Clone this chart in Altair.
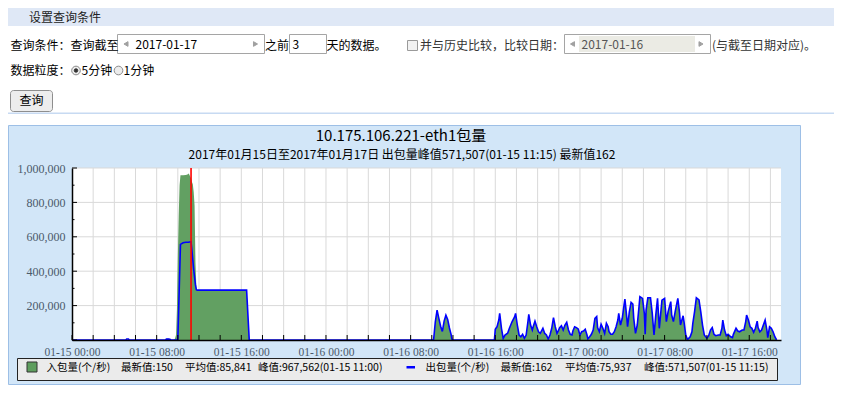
import altair as alt
import pandas as pd

# ---------------- data ----------------
# 入包量 (in) — 01-15, big burst
in_early_t = ["01-15 00:00", "01-15 05:05", "01-15 05:10", "01-15 05:20", "01-15 05:25",
              "01-15 08:50", "01-15 08:55", "01-15 09:05", "01-15 09:15", "01-15 09:20",
              "01-15 09:40", "01-15 09:45", "01-15 09:50", "01-15 09:55", "01-15 10:00",
              "01-15 10:05", "01-15 10:10", "01-15 10:15", "01-15 10:30", "01-15 10:45",
              "01-15 10:55", "01-15 11:00", "01-15 11:05", "01-15 11:10", "01-15 11:15",
              "01-15 11:20", "01-15 11:25", "01-15 11:30", "01-15 11:35", "01-15 11:40",
              "01-15 11:45", "01-15 11:50", "01-15 16:30", "01-15 16:45"]
in_early_v = [0, 0, 5000, 5000, 0,
              0, 6000, 8000, 6000, 0,
              0, 12000, 30000, 180000, 480000,
              720000, 900000, 958000, 958000, 960000,
              962000, 967562, 962000, 950000, 940000,
              918000, 905000, 860000, 780000, 450000,
              310000, 290000, 290000, 0]

# 出包量 (out) — 01-15, big burst
out_early_t = ["01-15 00:00", "01-15 05:05", "01-15 05:10", "01-15 05:20", "01-15 05:25",
               "01-15 08:50", "01-15 08:55", "01-15 09:05", "01-15 09:15", "01-15 09:20",
               "01-15 10:00", "01-15 10:15", "01-15 10:30", "01-15 10:45", "01-15 11:00",
               "01-15 11:15", "01-15 11:20", "01-15 11:30", "01-15 11:40", "01-15 11:45",
               "01-15 11:50", "01-15 16:30", "01-15 16:45"]
out_early_v = [0, 0, 6000, 6000, 0,
               0, 5000, 6000, 4000, 0,
               0, 556000, 565000, 568000, 568000,
               571507, 520000, 410000, 320000, 292000,
               290000, 290000, 0]

# 01-16 morning burst (both series coincide)
d16_t = ["01-16 10:10", "01-16 10:20", "01-16 10:30", "01-16 10:40", "01-16 10:50",
         "01-16 11:00", "01-16 11:10", "01-16 11:20", "01-16 11:30", "01-16 11:40",
         "01-16 11:50", "01-16 11:55"]
d16_v = [0, 106000, 174000, 126000, 80000,
         50000, 110000, 145000, 120000, 70000,
         30000, 0]

# 01-16 16:00 -> 01-17 18:35 (both series coincide)
late_t = ["01-16 15:55", "01-16 16:00", "01-16 16:10", "01-16 16:20", "01-16 16:25",
          "01-16 16:35", "01-16 16:45", "01-16 16:55", "01-16 17:10", "01-16 17:20",
          "01-16 17:35", "01-16 17:50", "01-16 17:55", "01-16 18:05", "01-16 18:15",
          "01-16 18:25", "01-16 18:35", "01-16 18:45", "01-16 18:55", "01-16 19:05",
          "01-16 19:10", "01-16 19:20", "01-16 19:30", "01-16 19:35", "01-16 19:45",
          "01-16 19:55", "01-16 20:05", "01-16 20:15", "01-16 20:30", "01-16 20:40",
          "01-16 20:50", "01-16 21:00", "01-16 21:10", "01-16 21:20", "01-16 21:30",
          "01-16 21:40", "01-16 21:50", "01-16 21:55", "01-16 22:05", "01-16 22:15",
          "01-16 22:25", "01-16 22:35", "01-16 22:45", "01-16 22:55", "01-16 23:05",
          "01-16 23:15", "01-16 23:20", "01-16 23:30", "01-16 23:40", "01-16 23:50",
          "01-17 00:00", "01-17 00:10", "01-17 00:20", "01-17 00:30", "01-17 00:40",
          "01-17 00:45", "01-17 00:55", "01-17 01:05", "01-17 01:15", "01-17 01:25",
          "01-17 01:35", "01-17 01:40", "01-17 01:50", "01-17 02:00", "01-17 02:10",
          "01-17 02:20", "01-17 02:30", "01-17 02:40", "01-17 02:45", "01-17 02:55",
          "01-17 03:05", "01-17 03:15", "01-17 03:25", "01-17 03:35", "01-17 03:40",
          "01-17 03:50", "01-17 04:00", "01-17 04:10", "01-17 04:15", "01-17 04:25",
          "01-17 04:30", "01-17 04:40", "01-17 04:50", "01-17 05:00", "01-17 05:05",
          "01-17 05:15", "01-17 05:25", "01-17 05:35", "01-17 05:40", "01-17 05:55",
          "01-17 06:05", "01-17 06:10", "01-17 06:15", "01-17 06:25", "01-17 06:40",
          "01-17 06:50", "01-17 07:00", "01-17 07:10", "01-17 07:20", "01-17 07:30",
          "01-17 07:45", "01-17 08:00", "01-17 08:10", "01-17 08:20", "01-17 08:35",
          "01-17 08:40", "01-17 08:50", "01-17 09:00", "01-17 09:15", "01-17 09:25",
          "01-17 09:30", "01-17 09:45", "01-17 09:50", "01-17 10:00", "01-17 10:10",
          "01-17 10:25", "01-17 10:35", "01-17 10:40", "01-17 10:50", "01-17 11:00",
          "01-17 11:15", "01-17 11:25", "01-17 11:35", "01-17 11:45", "01-17 12:00",
          "01-17 12:10", "01-17 12:20", "01-17 12:30", "01-17 12:40", "01-17 12:50",
          "01-17 13:05", "01-17 13:15", "01-17 13:25", "01-17 13:30", "01-17 13:40",
          "01-17 13:50", "01-17 14:00", "01-17 14:15", "01-17 14:25", "01-17 14:30",
          "01-17 14:45", "01-17 14:55", "01-17 15:05", "01-17 15:20", "01-17 15:30",
          "01-17 15:40", "01-17 15:45", "01-17 15:55", "01-17 16:05", "01-17 16:15",
          "01-17 16:25", "01-17 16:35", "01-17 16:45", "01-17 16:50", "01-17 17:00",
          "01-17 17:10", "01-17 17:20", "01-17 17:30", "01-17 17:40", "01-17 17:45",
          "01-17 17:55", "01-17 18:05", "01-17 18:15", "01-17 18:25", "01-17 18:35"]
late_v = [0, 62000, 78000, 116000, 155000,
          68000, 10000, 29000, 39000, 68000,
          106000, 136000, 155000, 87000, 29000,
          19000, 33000, 10000, 29000, 106000,
          149000, 87000, 58000, 77000, 110000,
          77000, 48000, 39000, 68000, 39000,
          29000, 6000, 29000, 68000, 130000,
          77000, 39000, 48000, 72000, 83000,
          58000, 87000, 103000, 58000, 33000,
          29000, 52000, 77000, 72000, 64000,
          29000, 48000, 52000, 62000, 29000,
          6000, 19000, 33000, 58000, 126000,
          136000, 72000, 48000, 91000, 68000,
          39000, 97000, 77000, 48000, 33000,
          33000, 48000, 77000, 116000, 155000,
          87000, 126000, 203000, 238000, 136000,
          77000, 164000, 219000, 209000, 126000,
          39000, 87000, 194000, 252000, 242000,
          155000, 33000, 174000, 246000, 246000,
          155000, 29000, 145000, 242000, 68000,
          232000, 242000, 107000, 165000, 223000,
          145000, 107000, 165000, 242000, 155000,
          87000, 141000, 107000, 29000, 3000,
          19000, 48000, 97000, 165000, 246000,
          233000, 165000, 87000, 29000, 10000,
          25000, 58000, 72000, 33000, 25000,
          29000, 29000, 68000, 116000, 58000,
          25000, 33000, 19000, 14000, 33000,
          68000, 52000, 48000, 58000, 58000,
          107000, 145000, 116000, 77000, 68000,
          45000, 68000, 110000, 72000, 48000,
          58000, 87000, 116000, 58000, 14000,
          77000, 68000, 48000, 19000, 160]

peak_out_time = "01-15 11:15"

# axis label positions
x_label_times = ["01-15 00:00", "01-15 08:00", "01-15 16:00", "01-16 00:00", "01-16 08:00",
                 "01-16 16:00", "01-17 00:00", "01-17 08:00", "01-17 16:00"]
y_label_values = [200000, 400000, 600000, 800000, 1000000]
y_minor_values = [100000, 300000, 500000, 700000, 900000]

# texts
title_text = "10.175.106.221-eth1包量"
subtitle_text = "2017年01月15日至2017年01月17日 出包量峰值571,507(01-15 11:15) 最新值162"
legend_in = ["入包量(个/秒)", "最新值:150", "平均值:85,841", "峰值:967,562(01-15 11:00)"]
legend_out = ["出包量(个/秒)", "最新值:162", "平均值:75,937", "峰值:571,507(01-15 11:15)"]

# ---------------- build tables ----------------
def frame(ts, vs):
    return pd.DataFrame({"t": pd.to_datetime(["2017-" + s for s in ts]), "v": vs})

in_df = pd.concat([frame(in_early_t, in_early_v), frame(d16_t, d16_v), frame(late_t, late_v)])
out_df = pd.concat([frame(out_early_t, out_early_v), frame(d16_t, d16_v), frame(late_t, late_v)])
peak_df = frame([peak_out_time], [571507])

grid_t = pd.DataFrame({"t": pd.date_range("2017-01-15 02:00", "2017-01-17 18:00", freq="2h")})
tick_t = pd.DataFrame({"t": pd.date_range("2017-01-15 00:00", "2017-01-17 18:00", freq="2h")})
grid_y = pd.DataFrame({"v": y_label_values})
tick_y = pd.DataFrame({"v": [0] + y_label_values})
tick_y_minor = pd.DataFrame({"v": y_minor_values})

W, H = 709, 172
OX, OY = 72, 168  # page position of the plot origin

def dt(s):
    d = pd.Timestamp("2017-" + s)
    return alt.DateTime(year=d.year, month=d.month, date=d.day, hours=d.hour, minutes=d.minute)

x_scale = alt.Scale(domain=[dt("01-15 00:00"), dt("01-17 19:00")])
y_scale = alt.Scale(domain=[0, 1000000], nice=False, zero=True)

LABEL_FONT = "Liberation Serif"
LABEL_COLOR = "#4B5A6B"

x_axis = alt.Axis(values=[dt(s) for s in x_label_times], format="%m-%d %H:%M", title=None,
                  grid=False, ticks=False, tickSize=0, labelFlush=False, labelOverlap=False,
                  labelFont=LABEL_FONT, labelFontSize=11.5, labelColor=LABEL_COLOR,
                  labelPadding=6, domainColor="#000000", domainWidth=1.5, zindex=1)
y_axis = alt.Axis(values=y_label_values, format=",d", title=None, grid=False, ticks=False,
                  tickSize=0, labelFont=LABEL_FONT, labelFontSize=12, labelColor=LABEL_COLOR,
                  labelPadding=7, domainColor="#000000", domainWidth=1.5, zindex=1)

xe = alt.X("t:T", scale=x_scale, axis=x_axis)
ye = alt.Y("v:Q", scale=y_scale, axis=y_axis)

# ---------------- page decoration (page pixel coords) ----------------
rect_rows = [
    (8, 8, 834, 26, "#DFE8F6", "transparent"),
    (8, 112.5, 834, 114, "#C7DAF2", "transparent"),
    (117.5, 34.5, 264.5, 53.5, "#FFFFFF", "#A5A5A5"),
    (289.5, 34.5, 326.5, 53.5, "#FFFFFF", "#A5A5A5"),
    (407.5, 40.5, 417.5, 50.5, "#F2F2F2", "#9A9A9A"),
    (564.5, 34.5, 710.5, 53.5, "#FFFFFF", "#A5A5A5"),
    (579, 36, 695, 52, "#EBEBE4", "transparent"),
    (8.5, 125.5, 800.5, 384.5, "#D2E6F8", "#9DBFE6"),
    (OX, OY, OX + W, OY + H, "#FFFFFF", "transparent"),
    (17.5, 358.5, 777.5, 380.5, "#EBEBEB", "#222222"),
    (27, 362, 37, 372, "#5E9E5E", "#333333"),
    (406.5, 366, 415, 368.5, "#0000FF", "transparent"),
]
rect_df = pd.DataFrame(rect_rows, columns=["x1", "y1", "x2", "y2", "fill", "stroke"])
for c in ("x1", "x2"):
    rect_df[c] = rect_df[c] - OX
for c in ("y1", "y2"):
    rect_df[c] = rect_df[c] - OY

LF = 10.5  # legend font size
text_rows = [
    ("设置查询条件", 29, 17.5, "#222222", 12),
    ("查询条件：查询截至", 10.5, 46, "#000000", 12),
    ("2017-01-17", 135.5, 45, "#000000", 12),
    ("之前", 265, 46, "#000000", 12),
    ("3", 292.5, 45, "#000000", 12),
    ("天的数据。", 326.5, 46, "#000000", 12),
    ("并与历史比较，比较日期：", 420, 46, "#333333", 12),
    ("2017-01-16", 581.5, 45, "#555555", 12),
    ("(与截至日期对应)。", 712, 46, "#333333", 12),
    ("数据粒度：", 10.5, 71, "#000000", 12),
    ("5分钟", 81.5, 71, "#000000", 12),
    ("1分钟", 123.5, 71, "#000000", 12),
    (legend_in[0], 46.5, 368, "#000000", LF),
    (legend_in[1], 121, 368, "#000000", LF),
    (legend_in[2], 185, 368, "#000000", LF),
    (legend_in[3], 258, 368, "#000000", LF),
    (legend_out[0], 425.5, 368, "#000000", LF),
    (legend_out[1], 500.5, 368, "#000000", LF),
    (legend_out[2], 565, 368, "#000000", LF),
    (legend_out[3], 644, 368, "#000000", LF),
]
text_df = pd.DataFrame(text_rows, columns=["s", "x", "y", "c", "fs"])
text_df["x"] = text_df["x"] - OX
text_df["y"] = text_df["y"] - OY

ctext_rows = [
    ("查询", 31.5, 101, "#000000", 12),
    (title_text, 401, 135.5, "#000000", 15),
    (subtitle_text, 402, 154.5, "#000000", 12),
]
ctext_df = pd.DataFrame(ctext_rows, columns=["s", "x", "y", "c", "fs"])
ctext_df["x"] = ctext_df["x"] - OX
ctext_df["y"] = ctext_df["y"] - OY

pt_rows = [
    (126, 44, "triangle-left", 22, "#A0A0A0", "#A0A0A0"),
    (255.5, 44, "triangle-right", 22, "#A0A0A0", "#A0A0A0"),
    (572.5, 44, "triangle-left", 22, "#A0A0A0", "#A0A0A0"),
    (701, 44, "triangle-right", 22, "#A0A0A0", "#A0A0A0"),
    (76, 70.5, "circle", 75, "#ECECEC", "#8A8A8A"),
    (76, 70.5, "circle", 12, "#333333", "#333333"),
    (118.5, 70.5, "circle", 75, "#ECECEC", "#8A8A8A"),
]
pt_df = pd.DataFrame(pt_rows, columns=["x", "y", "shape", "sz", "fill", "stroke"])
pt_df["x"] = pt_df["x"] - OX
pt_df["y"] = pt_df["y"] - OY

button_df = pd.DataFrame({"x1": [10.5 - OX], "x2": [52.5 - OX], "y1": [90.5 - OY], "y2": [111.5 - OY]})

px = lambda f: alt.X(f, scale=None, axis=None)
py = lambda f: alt.Y(f, scale=None, axis=None)

rects = alt.Chart(rect_df).mark_rect(strokeWidth=1).encode(
    x=px("x1:Q"), x2="x2:Q", y=py("y1:Q"), y2="y2:Q",
    fill=alt.Fill("fill:N", scale=None), stroke=alt.Stroke("stroke:N", scale=None))

button = alt.Chart(button_df).mark_rect(fill="#EDEDED", stroke="#8E8E8E", strokeWidth=1,
                                        cornerRadius=3).encode(
    x=px("x1:Q"), x2="x2:Q", y=py("y1:Q"), y2="y2:Q")

grid_v = alt.Chart(grid_t).mark_rule(color="#D9D9D9", strokeWidth=1).encode(x=xe)
grid_h = alt.Chart(grid_y).mark_rule(color="#D9D9D9", strokeWidth=1).encode(y=ye)

area = alt.Chart(in_df).mark_area(color="#62A062", opacity=1, interpolate="linear").encode(x=xe, y=ye)
line = alt.Chart(out_df).mark_line(color="#0000FF", strokeWidth=1.6, interpolate="linear").encode(x=xe, y=ye)
peak = alt.Chart(peak_df).mark_rule(color="#FF0000", strokeWidth=1.6).encode(x=xe)

xticks = alt.Chart(tick_t).mark_rule(color="#000000", strokeWidth=1).encode(
    x=xe, y=alt.value(H), y2=alt.value(H - 5))
yticks = alt.Chart(tick_y).mark_rule(color="#000000", strokeWidth=1).encode(
    y=ye, x=alt.value(0), x2=alt.value(5))
yticks_minor = alt.Chart(tick_y_minor).mark_rule(color="#000000", strokeWidth=1).encode(
    y=ye, x=alt.value(0), x2=alt.value(2.5))

texts = alt.Chart(text_df).mark_text(align="left", baseline="middle", font="Noto Sans CJK SC").encode(
    x=px("x:Q"), y=py("y:Q"), text="s:N",
    color=alt.Color("c:N", scale=None), size=alt.Size("fs:Q", scale=None))
ctexts = alt.Chart(ctext_df).mark_text(align="center", baseline="middle", font="Noto Sans CJK SC").encode(
    x=px("x:Q"), y=py("y:Q"), text="s:N",
    color=alt.Color("c:N", scale=None), size=alt.Size("fs:Q", scale=None))
points = alt.Chart(pt_df).mark_point(opacity=1, strokeWidth=1).encode(
    x=px("x:Q"), y=py("y:Q"), shape=alt.Shape("shape:N", scale=None),
    size=alt.Size("sz:Q", scale=None),
    fill=alt.Fill("fill:N", scale=None), stroke=alt.Stroke("stroke:N", scale=None))

chart = alt.layer(
    rects, button, grid_v, grid_h, area, line, peak, xticks, yticks, yticks_minor,
    texts, ctexts, points
).properties(
    width=W, height=H,
    autosize=alt.AutoSizeParams(type="none"),
    padding={"left": 64, "top": 160, "right": 53, "bottom": 46},
    background="#FFFFFF",
).configure_view(stroke=None)

chart.save("out.html", embed_options={"renderer": "svg", "actions": False})
